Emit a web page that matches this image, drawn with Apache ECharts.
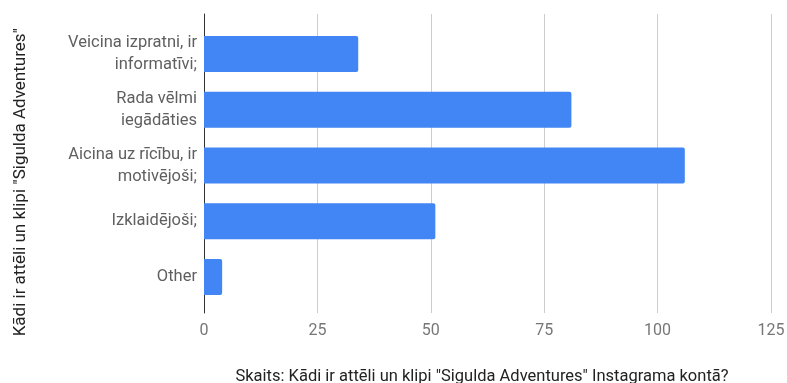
<!DOCTYPE html>
<html>
<head>
<meta charset="utf-8">
<script src="https://cdn.jsdelivr.net/npm/echarts@6/dist/echarts.min.js"></script>
<style>
  html, body { margin: 0; padding: 0; background: #fff; }
  #chart { width: 787px; height: 383px; }
</style>
</head>
<body>
<div id="chart"></div>
<script>
// answers (top to bottom)
const categories = [
  'Veicina izpratni, ir\ninformatīvi;',
  'Rada vēlmi\niegādāties',
  'Aicina uz rīcību, ir\nmotivējoši;',
  'Izklaidējoši;',
  'Other'
]
const counts = [34, 81, 106, 51, 4]
const xTicks = [0, 25, 50, 75, 100, 125]

const xName = 'Skaits: Kādi ir attēli un klipi "Sigulda Adventures" Instagrama kontā?'
const yName = 'Kādi ir attēli un klipi "Sigulda Adventures"'

const font = 'Roboto, "Noto Sans", sans-serif'
const xMin = xTicks[0]
const xMax = xTicks[xTicks.length - 1]
const step = xTicks[1] - xTicks[0]

const chart = echarts.init(document.getElementById('chart'), null, { renderer: 'canvas' })

chart.setOption({
  animation: false,
  textStyle: { fontFamily: font },
  grid: [
    // bars
    { left: 204, width: 567, top: 26, height: 279, outerBoundsMode: 'none' },
    // gridlines, ticks, axis line (a bit taller than the bar area)
    { left: 204, width: 567, top: 14, height: 299, outerBoundsMode: 'none' }
  ],
  xAxis: [
    {
      type: 'value', gridIndex: 0, min: xMin, max: xMax, interval: step,
      show: false
    },
    {
      type: 'value', gridIndex: 1, min: xMin, max: xMax, interval: step,
      axisLine: { show: false },
      axisTick: { show: false },
      splitLine: { lineStyle: { color: '#cccccc', width: 1 } },
      axisLabel: { color: '#777777', fontSize: 16, margin: 10, fontFamily: font },
      name: xName,
      nameLocation: 'middle',
      nameGap: 55,
      nameTextStyle: {
        color: '#222222', fontSize: 16.5, fontFamily: font,
        padding: [0, 11, 0, 0]
      }
    }
  ],
  yAxis: [
    {
      type: 'category', gridIndex: 0, inverse: true, data: categories,
      axisLine: { show: false },
      axisTick: { show: false },
      axisLabel: {
        color: '#5f5f5f', fontSize: 16.5, margin: 7, lineHeight: 22,
        align: 'right', fontFamily: font
      }
    },
    {
      type: 'value', gridIndex: 1,
      axisLine: { show: true, onZero: false, lineStyle: { color: '#333333', width: 1 } },
      axisTick: { show: false },
      axisLabel: { show: false },
      splitLine: { show: false }
    }
  ],
  graphic: [{
    type: 'text',
    left: 12,
    top: 28,
    rotation: Math.PI / 2,
    style: {
      text: yName,
      fill: '#222222',
      font: '17px ' + font
    }
  }],
  series: [{
    type: 'bar',
    xAxisIndex: 0,
    yAxisIndex: 0,
    data: counts,
    barWidth: 36,
    itemStyle: { color: '#4285f4', borderRadius: [0, 2, 2, 0] }
  }]
})
</script>
</body>
</html>
